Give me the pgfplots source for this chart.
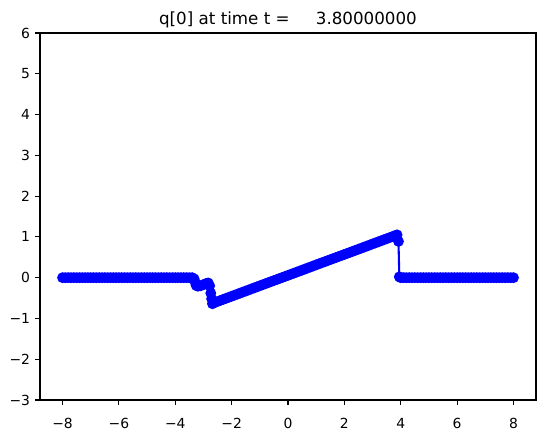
\documentclass[border=0pt]{standalone}
\usepackage{fontspec}
\setmainfont{DejaVu Sans}
\usepackage{pgfplots}
\pgfplotsset{compat=1.18}
\begin{document}
\begin{tikzpicture}
\begin{axis}[
  scale only axis, width=496bp, height=367bp,
  xmin=-8.8, xmax=8.8, ymin=-3, ymax=6,
  xtick={-8,-6,...,8}, xticklabels={−8,−6,−4,−2,0,2,4,6,8},
  ytick={-3,-2,...,6}, yticklabels={−3,−2,−1,0,1,2,3,4,5,6},
  tick pos=left, tick align=outside, major tick length=4.9bp,
  minor tick num=0,
  tick style={line width=1.1bp, black},
  axis line style={line width=1.1bp},
  tick label style={font=\fontsize{13.9bp}{16bp}\selectfont, inner sep=0pt},
  xticklabel style={anchor=base, yshift=-23.5bp},
  yticklabel style={anchor=east, xshift=-4.9bp},
  title={q[0] at time t =\hspace{21bp} 3.80000000},
  title style={font=\fontsize{16.7bp}{20bp}\selectfont, anchor=base, at={(0.5,1)}, yshift=2.2bp, inner sep=0pt},
]
\addplot[blue, line width=2.08bp, mark=*, mark size=4.7bp, mark options={line width=1.39bp, fill=blue, draw=blue}] coordinates {
(-8.0,0)(-7.9,0)(-7.8,0)(-7.7,0)(-7.6,0)(-7.5,0)(-7.4,0)(-7.3,0)(-7.2,0)(-7.1,0)
(-7.0,0)(-6.9,0)(-6.8,0)(-6.7,0)(-6.6,0)(-6.5,0)(-6.4,0)(-6.3,0)(-6.2,0)(-6.1,0)
(-6.0,0)(-5.9,0)(-5.8,0)(-5.7,0)(-5.6,0)(-5.5,0)(-5.4,0)(-5.3,0)(-5.2,0)(-5.1,0)
(-5.0,0)(-4.9,0)(-4.8,0)(-4.7,0)(-4.6,0)(-4.5,0)(-4.4,0)(-4.3,0)(-4.2,0)(-4.1,0)
(-4.0,0)(-3.9,0)(-3.8,0)(-3.7,0)(-3.6,0)(-3.5,0)(-3.4,0)
(-3.33,-0.03)(-3.29,-0.12)(-3.26,-0.19)(-3.2,-0.21)(-3.1,-0.2)(-3.0,-0.17)(-2.9,-0.14)
(-2.83,-0.13)(-2.78,-0.2)(-2.74,-0.38)(-2.71,-0.52)(-2.68,-0.64)
(-2.6,-0.610)(-2.5,-0.584)(-2.4,-0.559)(-2.3,-0.533)(-2.2,-0.507)(-2.1,-0.482)
(-2.0,-0.456)(-1.9,-0.430)(-1.8,-0.405)(-1.7,-0.379)(-1.6,-0.353)(-1.5,-0.328)
(-1.4,-0.302)(-1.3,-0.276)(-1.2,-0.251)(-1.1,-0.225)(-1.0,-0.200)(-0.9,-0.174)
(-0.8,-0.148)(-0.7,-0.123)(-0.6,-0.097)(-0.5,-0.071)(-0.4,-0.046)(-0.3,-0.020)
(-0.2,0.006)(-0.1,0.031)(0.0,0.057)(0.1,0.083)(0.2,0.108)(0.3,0.134)(0.4,0.160)
(0.5,0.185)(0.6,0.211)(0.7,0.237)(0.8,0.262)(0.9,0.288)(1.0,0.314)(1.1,0.339)
(1.2,0.365)(1.3,0.390)(1.4,0.416)(1.5,0.442)(1.6,0.467)(1.7,0.493)(1.8,0.519)
(1.9,0.544)(2.0,0.570)(2.1,0.596)(2.2,0.621)(2.3,0.647)(2.4,0.673)(2.5,0.698)
(2.6,0.724)(2.7,0.750)(2.8,0.775)(2.9,0.801)(3.0,0.827)(3.1,0.852)(3.2,0.878)
(3.3,0.903)(3.4,0.929)(3.5,0.955)(3.6,0.980)(3.7,1.006)(3.8,1.032)(3.87,1.050)
(3.92,0.89)(3.95,0.02)
(4.0,0)(4.1,0)(4.2,0)(4.3,0)(4.4,0)(4.5,0)(4.6,0)(4.7,0)(4.8,0)(4.9,0)
(5.0,0)(5.1,0)(5.2,0)(5.3,0)(5.4,0)(5.5,0)(5.6,0)(5.7,0)(5.8,0)(5.9,0)
(6.0,0)(6.1,0)(6.2,0)(6.3,0)(6.4,0)(6.5,0)(6.6,0)(6.7,0)(6.8,0)(6.9,0)
(7.0,0)(7.1,0)(7.2,0)(7.3,0)(7.4,0)(7.5,0)(7.6,0)(7.7,0)(7.8,0)(7.9,0)(8.0,0)
};
\coordinate (sw) at (rel axis cs:0,0);
\coordinate (ne) at (rel axis cs:1,1);
\end{axis}
\pgfresetboundingbox
\path ([shift={(-40bp,-35bp)}]sw) rectangle ([shift={(10bp,33bp)}]ne);
\end{tikzpicture}
\end{document}
